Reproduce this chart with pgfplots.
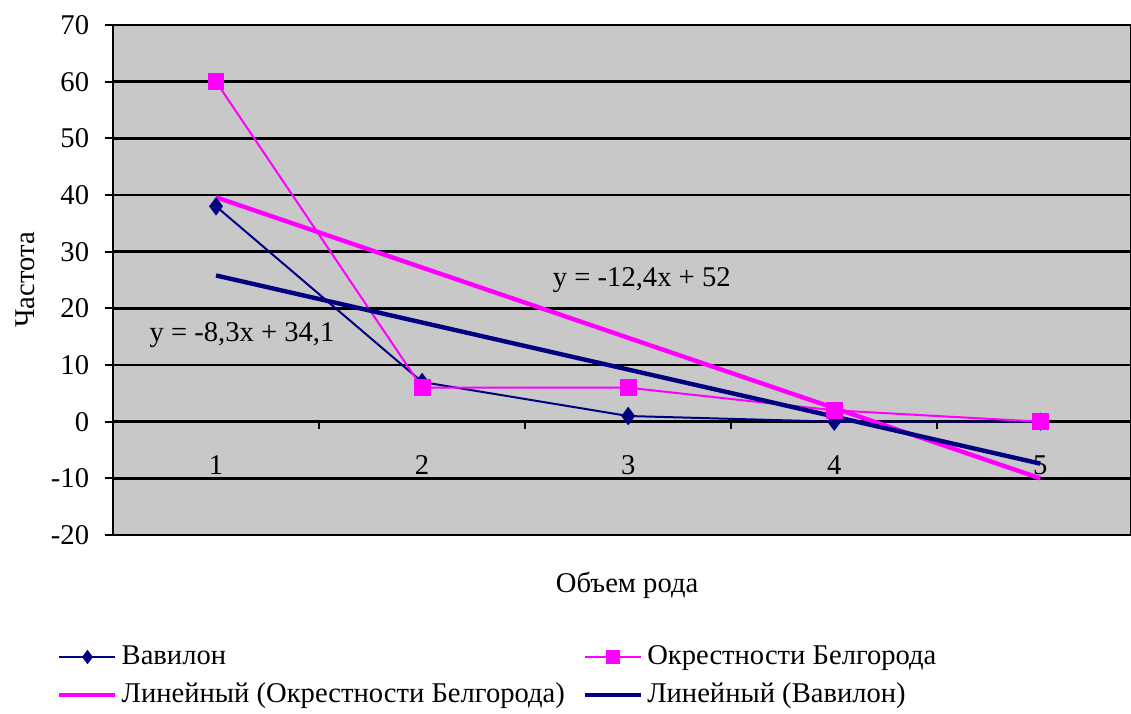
\documentclass[border=0pt]{standalone}
\usepackage{pgfplots}
\pgfplotsset{compat=1.18}
\usepackage{fontspec}
\setmainfont{Liberation Serif}
\definecolor{navy}{RGB}{0,0,128}
\definecolor{mag}{RGB}{255,0,255}
\definecolor{bg}{RGB}{200,200,200}
\begin{document}
\fontsize{14.3}{17}\selectfont
\begin{tikzpicture}
\path[use as bounding box] (0,0) rectangle (565.5pt,-356.5pt);
\begin{axis}[
 at={(56.5pt,-267.5pt)}, anchor=south west,
 scale only axis, width=509pt, height=255pt,
 xmin=0.5, xmax=5.44, ymin=-20, ymax=70,
 ytick={-20,-10,...,70},
 xtick={1,2,3,4,5},
 xticklabels={1,2,3,4,5},
 /pgf/number format/assume math mode=true,
 ymajorgrids, grid style={black, line width=1.2pt},
 axis background/.style={fill=bg},
 separate axis lines,
 x axis line style={draw=none},
 y axis line style={black, line width=1pt},
 tick style={black, line width=1pt},
 ytick align=outside, ytick pos=left,
 major tick length=4pt,
 xtick style={draw=none},
 yticklabel style={xshift=-3pt},
 xticklabel style={anchor=center, yshift=35pt},
 ylabel={Частота},
 ylabel style={at={(axis description cs:-0.0864,0.5)}, anchor=center},
 xlabel={Объем рода},
 xlabel style={at={(axis description cs:0.505,-0.098)}, anchor=center},
 legend columns=2,
 legend cell align=left,
 legend style={draw=none, fill=none, at={(axis description cs:-0.061,-0.2)}, anchor=north west,
   /tikz/every even column/.append style={column sep=7pt},
   row sep=3pt},
 legend image code/.code={\draw[mark repeat=2,mark phase=2,mark size=2.8pt,#1] plot coordinates {(0pt,0pt)(14pt,0pt)(28pt,0pt)};},
]
\addplot[navy, line width=1pt, mark=diamond*, mark size=3.8pt, mark options={solid, fill=navy}]
 coordinates {(1,38)(2,7)(3,1)(4,0)(5,0)};
\addlegendentry{Вавилон}
\addplot[mag, line width=1pt, mark=square*, mark size=3.7pt, mark options={solid, fill=mag}]
 coordinates {(1,60)(2,6)(3,6)(4,2)(5,0)};
\addlegendentry{Окрестности Белгорода}
\addplot[mag, line width=2.2pt, no marks]
 coordinates {(1,39.6)(2,27.2)(3,14.8)(4,2.4)(5,-10)};
\addlegendentry{Линейный (Окрестности Белгорода)}
\addplot[navy, line width=2.2pt, no marks]
 coordinates {(1,25.8)(2,17.5)(3,9.2)(4,0.9)(5,-7.4)};
\addlegendentry{Линейный (Вавилон)}
\pgfplotsinvokeforeach{1.5,2.5,3.5,4.5}{
 \draw[black, line width=1pt] (axis cs:#1,0) -- ([yshift=-3.5pt]axis cs:#1,0);
}
\node[anchor=center] at (axis cs:1.126,15.2) {y = -8,3x + 34,1};
\node[anchor=center] at (axis cs:3.066,25) {y = -12,4x + 52};
\end{axis}
\end{tikzpicture}
\end{document}
